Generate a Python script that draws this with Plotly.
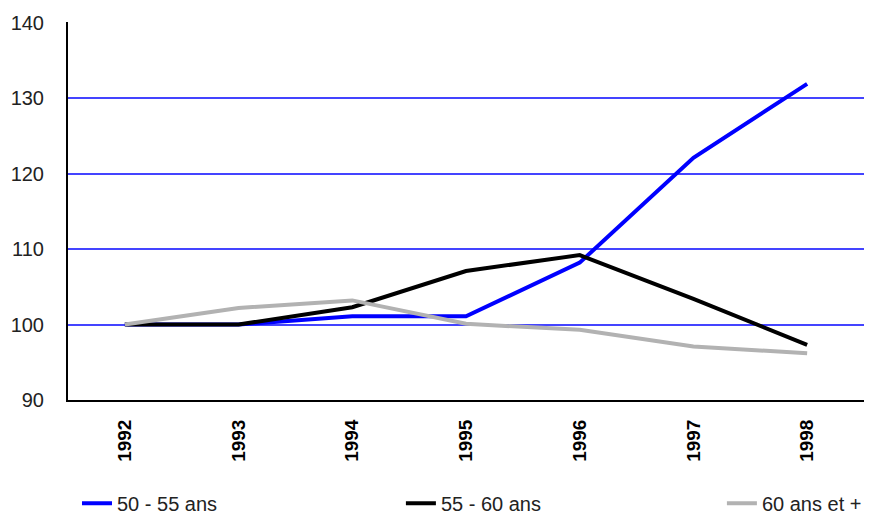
import plotly.graph_objects as go

years = ["1992", "1993", "1994", "1995", "1996", "1997", "1998"]
s50_55 = [100, 100, 101.1, 101.1, 108.2, 122.1, 131.9]
s55_60 = [100, 100, 102.3, 107.1, 109.2, 103.4, 97.3]
s60plus = [100, 102.2, 103.2, 100.1, 99.3, 97.1, 96.2]
names = ["50 - 55 ans", "55 - 60 ans", "60 ans et +"]
colors = ["#0000ff", "#000000", "#b2b2b2"]
legend_ids = ["legend", "legend2", "legend3"]
legend_x = [0.0806, 0.459, 0.834]

fig = go.Figure()
for name, vals, col, lid in zip(names, [s50_55, s55_60, s60plus], colors, legend_ids):
    fig.add_trace(go.Scatter(x=years, y=vals, name=name, mode="lines",
                             line=dict(color=col, width=4), legend=lid))

leg_font = dict(family="Liberation Sans, Arial", size=20, color="#222")
layout_legends = {}
for lid, lx in zip(legend_ids, legend_x):
    layout_legends[lid] = dict(orientation="h", xref="container", yref="container",
                               x=lx, xanchor="left", y=0.025, yanchor="middle",
                               font=leg_font, bgcolor="rgba(0,0,0,0)")

fig.update_layout(
    width=856, height=508,
    margin=dict(l=60, r=0, t=14, b=116),
    paper_bgcolor="white", plot_bgcolor="white",
    showlegend=True,
    xaxis=dict(type="category", range=[-0.5, 6.5], showgrid=False, automargin=False,
               showline=True, linecolor="black", linewidth=2,
               tickangle=-90, ticks="", ticklabelstandoff=10,
               tickfont=dict(family="Liberation Sans, Arial", size=19, color="black", weight="bold")),
    yaxis=dict(range=[90, 140.1], tickvals=[90, 100, 110, 120, 130, 140], showgrid=True,
               gridcolor="#4444ff", gridwidth=2, automargin=False,
               showline=True, linecolor="black", linewidth=2, zeroline=False,
               ticks="", ticklabelstandoff=18,
               tickfont=dict(family="Liberation Sans, Arial", size=20, color="#222")),
    **layout_legends,
)

fig.write_html("out.html")
